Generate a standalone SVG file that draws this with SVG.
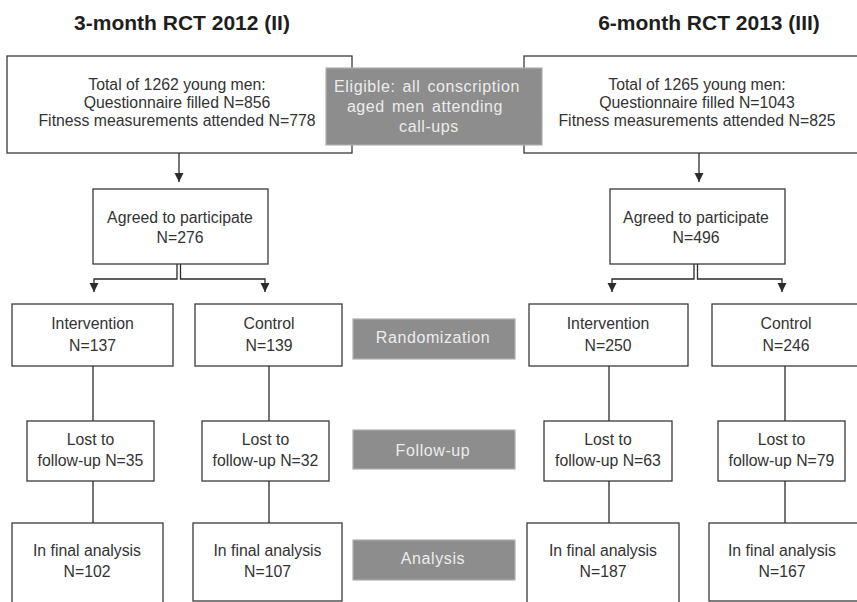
<svg xmlns="http://www.w3.org/2000/svg" width="857" height="602" viewBox="0 0 857 602">
<defs>
<marker id="ah" markerUnits="userSpaceOnUse" markerWidth="10" markerHeight="10" refX="9" refY="4.5" orient="auto">
<path d="M0,0 L9,4.5 L0,9 z" fill="#2b2b2b"/>
</marker>
</defs>
<style>
.box{fill:#fff;stroke:#3a3a3a;stroke-width:1.3}
.gbox{fill:#8d8d8d;stroke:#b0b0b0;stroke-width:1.2}
.t{font-family:"Liberation Sans",Arial,sans-serif;font-size:15.8px;fill:#333;text-anchor:middle}
.g{font-family:"Liberation Sans",Arial,sans-serif;font-size:16px;fill:#ececec;text-anchor:middle;letter-spacing:0.6px;word-spacing:2px}
.h{font-family:"Liberation Sans",Arial,sans-serif;font-size:21px;font-weight:bold;fill:#1e1e1e;text-anchor:middle}
.c{fill:none;stroke:#2b2b2b;stroke-width:1.3}
</style>
<rect width="857" height="602" fill="#fff"/>
<g id="titles">
<text class="h" x="182" y="30">3-month RCT 2012 (II)</text>
<text class="h" x="709" y="30">6-month RCT 2013 (III)</text>
</g>
<g id="connectors">
<path class="c" d="M179,153 V182" marker-end="url(#ah)"/>
<path class="c" d="M699,153 V182" marker-end="url(#ah)"/>
<path class="c" d="M177,264 V279 H94 V292" marker-end="url(#ah)"/>
<path class="c" d="M180.5,264 V279 H265 V292" marker-end="url(#ah)"/>
<path class="c" d="M694,264 V279 H612 V292" marker-end="url(#ah)"/>
<path class="c" d="M697.5,264 V279 H782 V292" marker-end="url(#ah)"/>
<path class="c" d="M93,366 V421 M93,481 V523"/>
<path class="c" d="M269,366 V421 M269,481 V523"/>
<path class="c" d="M609,366 V421 M609,481 V523"/>
<path class="c" d="M785,366 V421 M785,481 V523"/>
</g>
<g id="total-2012">
<rect class="box" x="7" y="56" width="345" height="97"/>
<text class="t" x="177" y="90">Total of 1262 young men:</text>
<text class="t" x="177" y="108">Questionnaire filled N=856</text>
<text class="t" x="177" y="126">Fitness measurements attended N=778</text>
</g>
<g id="total-2013">
<rect class="box" x="524" y="56" width="346" height="97"/>
<text class="t" x="697" y="90">Total of 1265 young men:</text>
<text class="t" x="697" y="108">Questionnaire filled N=1043</text>
<text class="t" x="697" y="126">Fitness measurements attended N=825</text>
</g>
<g id="eligible">
<rect class="gbox" x="326" y="68" width="216" height="77"/>
<text class="g" x="427" y="92">Eligible: all conscription</text>
<text class="g" x="425" y="112">aged men attending</text>
<text class="g" x="429" y="132">call-ups</text>
</g>
<g id="agreed-2012">
<rect class="box" x="93" y="189" width="175" height="75"/>
<text class="t" x="180" y="223">Agreed to participate</text>
<text class="t" x="180" y="243">N=276</text>
</g>
<g id="agreed-2013">
<rect class="box" x="610" y="189" width="175" height="75"/>
<text class="t" x="696" y="223">Agreed to participate</text>
<text class="t" x="696" y="243">N=496</text>
</g>
<g id="int-2012">
<rect class="box" x="12" y="304" width="161" height="62"/>
<text class="t" x="92.5" y="329">Intervention</text>
<text class="t" x="92.5" y="351">N=137</text>
</g>
<g id="ctrl-2012">
<rect class="box" x="195" y="304" width="147" height="62"/>
<text class="t" x="269" y="329">Control</text>
<text class="t" x="269" y="351">N=139</text>
</g>
<g id="randomization">
<rect class="gbox" x="353" y="319" width="162" height="40"/>
<text class="g" x="433" y="343">Randomization</text>
</g>
<g id="int-2013">
<rect class="box" x="529" y="304" width="159" height="62"/>
<text class="t" x="608" y="329">Intervention</text>
<text class="t" x="608" y="351">N=250</text>
</g>
<g id="ctrl-2013">
<rect class="box" x="712" y="304" width="148" height="62"/>
<text class="t" x="786" y="329">Control</text>
<text class="t" x="786" y="351">N=246</text>
</g>
<g id="lost-int-2012">
<rect class="box" x="27" y="421" width="127" height="60"/>
<text class="t" x="90.5" y="445">Lost to</text>
<text class="t" x="90.5" y="466">follow-up N=35</text>
</g>
<g id="lost-ctrl-2012">
<rect class="box" x="202" y="421" width="127" height="60"/>
<text class="t" x="265.5" y="445">Lost to</text>
<text class="t" x="265.5" y="466">follow-up N=32</text>
</g>
<g id="followup">
<rect class="gbox" x="353" y="430" width="162" height="39"/>
<text class="g" x="433" y="456">Follow-up</text>
</g>
<g id="lost-int-2013">
<rect class="box" x="544" y="421" width="128" height="60"/>
<text class="t" x="608" y="445">Lost to</text>
<text class="t" x="608" y="466">follow-up N=63</text>
</g>
<g id="lost-ctrl-2013">
<rect class="box" x="718" y="421" width="127" height="60"/>
<text class="t" x="781.5" y="445">Lost to</text>
<text class="t" x="781.5" y="466">follow-up N=79</text>
</g>
<g id="final-int-2012">
<rect class="box" x="12" y="523" width="151" height="84"/>
<text class="t" x="87" y="556">In final analysis</text>
<text class="t" x="87" y="577">N=102</text>
</g>
<g id="final-ctrl-2012">
<rect class="box" x="193" y="523" width="149" height="78"/>
<text class="t" x="267.5" y="556">In final analysis</text>
<text class="t" x="267.5" y="577">N=107</text>
</g>
<g id="analysis">
<rect class="gbox" x="353" y="540" width="162" height="40"/>
<text class="g" x="433" y="564">Analysis</text>
</g>
<g id="final-int-2013">
<rect class="box" x="527" y="523" width="152" height="84"/>
<text class="t" x="603" y="556">In final analysis</text>
<text class="t" x="603" y="577">N=187</text>
</g>
<g id="final-ctrl-2013">
<rect class="box" x="709" y="523" width="150" height="78"/>
<text class="t" x="782" y="556">In final analysis</text>
<text class="t" x="782" y="577">N=167</text>
</g>
</svg>
